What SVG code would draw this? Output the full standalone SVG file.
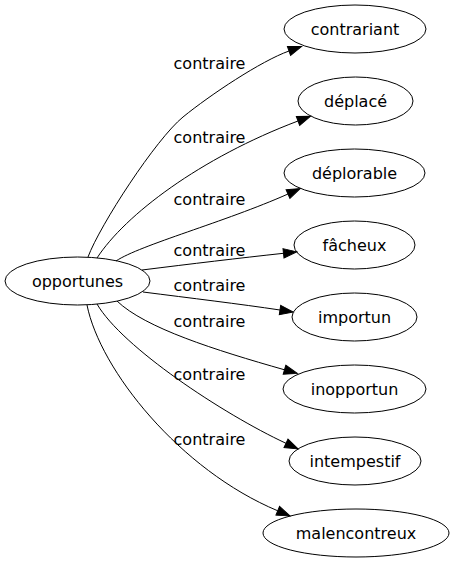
<svg xmlns="http://www.w3.org/2000/svg" width="451" height="563" viewBox="0 0 451 563">
<style>
.node ellipse{fill:none;stroke:#000;stroke-width:1}
text{font-family:"DejaVu Sans",sans-serif;font-size:16px;fill:#000;text-anchor:middle}
.edge path{fill:none;stroke:#000;stroke-width:1;marker-end:url(#arr)}
</style>
<defs>
<marker id="arr" markerUnits="userSpaceOnUse" markerWidth="14" markerHeight="10" refX="0" refY="4.7" orient="auto" overflow="visible">
<path d="M0,0 L13.3,4.7 L0,9.4 Z" fill="#000" stroke="#000" stroke-width="1"/>
</marker>
</defs>
<rect width="451" height="563" fill="#fff"/>
<g id="edges" class="edge">
<path d="M88,257 C100,225 156,139 183,117 C210,95 261,61 289,51"/>
<path d="M97,258 C125,215 200,158 298,121"/>
<path d="M116,261 C140,245 225,222 288,194"/>
<path d="M142,270 C190,264 240,258 283.5,253.3"/>
<path d="M143,292 C190,298 240,304 280,310"/>
<path d="M117,301 C145,328 215,350 284.5,369.8"/>
<path d="M97,304 C122,347 222.5,413.7 286,443.3"/>
<path d="M87,305 C100,370 180,470 277.75,510.8"/>
</g>
<g id="edge-labels">
<text x="209.5" y="69">contraire</text>
<text x="209.5" y="143">contraire</text>
<text x="209.5" y="205">contraire</text>
<text x="209.5" y="256">contraire</text>
<text x="209.5" y="291">contraire</text>
<text x="209.5" y="327">contraire</text>
<text x="209.5" y="380">contraire</text>
<text x="209.5" y="445">contraire</text>
</g>
<g id="opportunes" class="node"><ellipse cx="77.5" cy="281" rx="72.5" ry="24"/><text x="77.5" y="287">opportunes</text></g>
<g id="contrariant" class="node"><ellipse cx="355" cy="29" rx="71" ry="24"/><text x="355" y="35">contrariant</text></g>
<g id="deplace" class="node"><ellipse cx="355.5" cy="101" rx="57.5" ry="24"/><text x="355.5" y="107">déplacé</text></g>
<g id="deplorable" class="node"><ellipse cx="354.5" cy="173" rx="70.5" ry="24"/><text x="354.5" y="179">déplorable</text></g>
<g id="facheux" class="node"><ellipse cx="354.5" cy="245" rx="60.5" ry="24"/><text x="354.5" y="251">fâcheux</text></g>
<g id="importun" class="node"><ellipse cx="354.5" cy="317" rx="62.5" ry="24"/><text x="354.5" y="323">importun</text></g>
<g id="inopportun" class="node"><ellipse cx="354.5" cy="389" rx="71.5" ry="24"/><text x="354.5" y="395">inopportun</text></g>
<g id="intempestif" class="node"><ellipse cx="355" cy="461" rx="66" ry="24"/><text x="355" y="467">intempestif</text></g>
<g id="malencontreux" class="node"><ellipse cx="356" cy="533" rx="93" ry="24"/><text x="356" y="539">malencontreux</text></g>
</svg>
